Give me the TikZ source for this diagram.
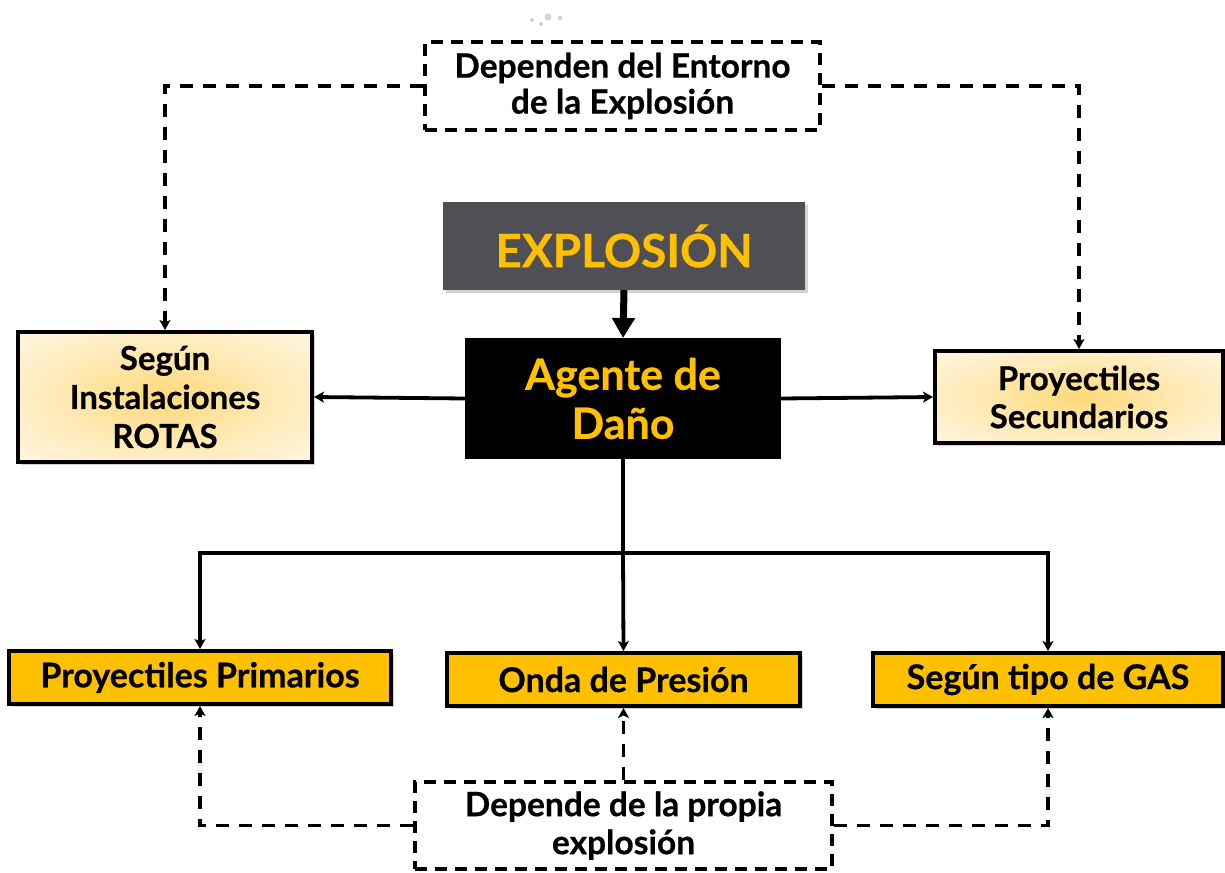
\documentclass[tikz,border=0pt]{standalone}
\usepackage{fontspec}
\setmainfont{Lato}[BoldFeatures={FakeBold=0.6}]
\usetikzlibrary{arrows.meta,shadows}
\definecolor{gold}{HTML}{FFC000}
\definecolor{slate}{HTML}{4F4F55}
\definecolor{creamout}{HTML}{FFF4DE}
\definecolor{creammid}{HTML}{FFE9B5}
\definecolor{creamin}{HTML}{FFD978}
\pgfdeclareradialshading{cream}{\pgfpoint{0bp}{0bp}}{color(0bp)=(creamin); color(18bp)=(creammid); color(34bp)=(creamout); color(50bp)=(creamout)}
\begin{document}
\begin{tikzpicture}[x=1pt,y=-1pt,
  box/.style={draw=black, line width=4pt, inner sep=0pt, align=center, font=\bfseries},
  shad/.style={drop shadow={shadow xshift=3pt, shadow yshift=-3pt, opacity=0.35}},
  dashbox/.style={draw=black, line width=3.3pt, dash pattern=on 12pt off 8pt, fill=white, inner sep=0pt, align=center, font=\bfseries},
  conn/.style={line width=3.8pt},
  dconn/.style={line width=3.8pt, dash pattern=on 13pt off 10pt},
  tip/.style={-{Stealth[length=10pt,width=11pt,inset=2.5pt]}},
  sidebox/.style={box, shad, shading=cream},
  goldbox/.style={box, shad, fill=gold, minimum height=53pt, font=\bfseries\fontsize{34}{40}\selectfont}
]
\useasboundingbox (0,0) rectangle (1225,872);
% stray dots
\fill[gray!35] (532,20) circle (2pt) (548,17) circle (3.5pt) (560,18) circle (2.2pt) (541,24) circle (2pt);

\node[dashbox, minimum width=395pt, minimum height=88pt, font=\bfseries\fontsize{33.5}{36}\selectfont] (top) at (622.5,86) {Dependen del Entorno\\de la Explosión};

\node[shad, fill=slate, draw=none, minimum width=362pt, minimum height=88pt, inner sep=0pt, text=gold, font=\bfseries\fontsize{46}{50}\selectfont] (exp) at (624,246) {EXPLOSIÓN};

\node[box, fill=black, draw=black, minimum width=312pt, minimum height=117pt, text=gold, font=\bfseries\fontsize{43}{49}\selectfont] (ag) at (623,398.5) {Agente de\\Daño};

\node[sidebox, minimum width=294pt, minimum height=130pt, font=\bfseries\fontsize{33}{39}\selectfont] (lb) at (165,397) {Según\\Instalaciones\\ROTAS};

\node[sidebox, minimum width=288pt, minimum height=92pt, font=\bfseries\fontsize{33}{38}\selectfont] (rb) at (1079,397) {Proyectiles\\Secundarios};

\node[goldbox, minimum width=382pt] (pp) at (200,677.5) {Proyectiles Primarios};
\node[goldbox, minimum width=353pt] (od) at (623.5,679.5) {Onda de Presión};
\node[goldbox, minimum width=350pt] (gas) at (1048,679.5) {Según tipo de GAS};

\node[dashbox, minimum width=417pt, minimum height=87pt, font=\bfseries\fontsize{33.5}{38}\selectfont] (bot) at (623.5,825.5) {Depende de la propia\\explosión};

% connectors
\draw[line width=7pt, -{Triangle[length=20pt,width=22pt]}] (exp.south) -- (ag.north);
\draw[conn, tip] (ag.west) -- (lb.east);
\draw[conn, tip] (ag.east) -- (rb.west);
\coordinate (j) at (623,553);
\draw[conn] (ag.south) -- (j);
\draw[conn, tip] (j) -| (pp.north);
\draw[conn, tip] (j) -- (od.north);
\draw[conn, tip] (j) -| (gas.north);

\draw[dconn, tip] (top.west) -| (lb.north);
\draw[dconn, tip] (top.east) -| (rb.north);
\draw[dconn, tip] (bot.north) -- (od.south);
\draw[dconn, tip] (bot.west) -| (pp.south);
\draw[dconn, tip] (bot.east) -| (gas.south);
\end{tikzpicture}
\end{document}
